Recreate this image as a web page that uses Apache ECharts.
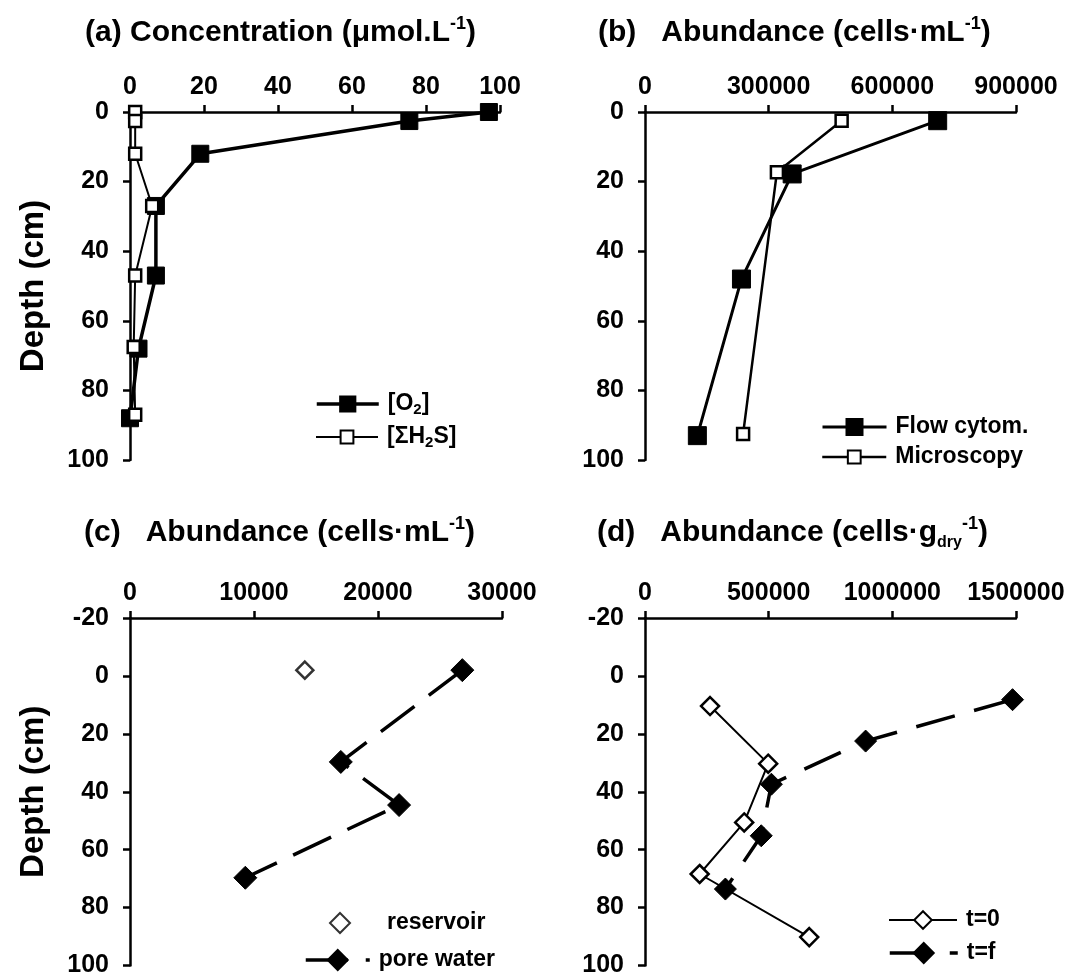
<!DOCTYPE html>
<html>
<head>
<meta charset="utf-8">
<script src="https://cdn.jsdelivr.net/npm/echarts@6/dist/echarts.min.js"></script>
<style>
  html, body { margin: 0; padding: 0; background: #fff; }
  #chart { width: 1073px; height: 978px; }
</style>
</head>
<body>
<div id="chart"></div>
<script>
// (a) concentrations, umol/L, against depth (cm)
var o2Conc = [97, 75.5, 19, 7, 7, 2.3, 0];
var o2Depth = [0, 2.6, 12, 27, 47, 68, 88];
var h2sConc = [1.4, 1.4, 1.4, 6, 1.4, 1, 1.4];
var h2sDepth = [0, 2.6, 12, 27, 47, 67.5, 87];

// (b) abundance, cells/mL
var flowAbund = [710000, 357000, 234000, 127000];
var flowDepth = [2.5, 17.8, 48, 93];
var microAbund = [477000, 320000, 238000];
var microDepth = [2.5, 17.3, 92.5];

// (c) abundance, cells/mL
var reservoirAbund = [14100];
var reservoirDepth = [-2];
var poreAbund = [26800, 17000, 21700, 9300];
var poreDepth = [-2, 29.7, 44.6, 69.7];

// (d) abundance, cells/g dry
var t0Abund = [263000, 498000, 401000, 221000, 664000];
var t0Depth = [10.4, 30.3, 50.6, 68.4, 90.2];
var tfAbund = [1486000, 892000, 511000, 470000, 325000];
var tfDepth = [8.2, 22.5, 37.4, 55.2, 73.6];

var FONT = "'Liberation Sans', Arial, sans-serif";

function pairs(xs, ys) {
    return xs.map(function (x, i) { return [x, ys[i]]; });
}

var myChart = echarts.init(document.getElementById('chart'));

var axisLine = { show: true, onZero: false, lineStyle: { color: '#000', width: 2.5 } };
var axisTick = { show: true, inside: false, length: 7, lineStyle: { color: '#000', width: 2.5 } };
var tickFont = {
    color: '#000', fontSize: 25, fontWeight: 'bold', fontFamily: FONT,
    formatter: function (v) { return String(v); }
};

function xAx(grid, max, interval) {
    return {
        type: 'value', gridIndex: grid, position: 'top',
        min: 0, max: max, interval: interval,
        axisLine: axisLine, axisTick: axisTick, splitLine: { show: false },
        axisLabel: Object.assign({ margin: 12 }, tickFont)
    };
}
function yAx(grid, min, withName) {
    return {
        type: 'value', gridIndex: grid, inverse: true,
        min: min, max: 100, interval: 20,
        axisLine: axisLine, axisTick: axisTick, splitLine: { show: false },
        axisLabel: Object.assign({ margin: 21 }, tickFont),
        name: withName ? 'Depth (cm)' : '',
        nameLocation: 'middle', nameRotate: 90, nameGap: 80,
        nameTextStyle: { color: '#000', fontSize: 33, fontWeight: 'bold', fontFamily: FONT }
    };
}

var titleRich = {
    sup: { fontSize: 18, fontWeight: 'bold', verticalAlign: 'top', lineHeight: 36, fontFamily: FONT, color: '#000' },
    sub: { fontSize: 16, fontWeight: 'bold', verticalAlign: 'bottom', lineHeight: 36, fontFamily: FONT, color: '#000' }
};
function ttl(text, left, top) {
    return {
        text: text, left: left, top: top, padding: 0,
        textStyle: { color: '#000', fontSize: 30, fontWeight: 'bold', lineHeight: 36, fontFamily: FONT, rich: titleRich }
    };
}

var legendRich = {
    sub: { fontSize: 15, fontWeight: 'bold', verticalAlign: 'bottom', lineHeight: 26, fontFamily: FONT, color: '#000' }
};
var legendNames = {
    '[O2]': '[O{sub|2}]',
    '[ΣH2S]': '[ΣH{sub|2}S]'
};
function lgd(name, left, yc, w, h, lw, textPad) {
    return {
        data: [name], left: left, top: yc - 13, padding: 0,
        itemWidth: w, itemHeight: h, selectedMode: false,
        lineStyle: { width: lw },
        formatter: function (n) { return legendNames[n] || n; },
        textStyle: {
            color: '#000', fontSize: 23, fontWeight: 'bold', lineHeight: 26, fontFamily: FONT,
            padding: [0, 0, 0, textPad || 4], rich: legendRich
        }
    };
}

var filled = { color: '#000', borderColor: '#000', borderWidth: 1 };
var open = { color: '#fff', borderColor: '#000', borderWidth: 2.5 };

var option = {
    backgroundColor: '#fff',
    animation: false,
    title: [
        ttl('(a) Concentration (μmol.L{sup|-1})', 85, 15),
        ttl('(b)   Abundance (cells·mL{sup|-1})', 598, 15),
        ttl('(c)   Abundance (cells·mL{sup|-1})', 84, 515),
        ttl('(d)   Abundance (cells·g{sub|dry}{sup|-1})', 597, 515)
    ],
    legend: [
        lgd('[O2]', 315, 404, 62, 19, 3.5),
        lgd('[ΣH2S]', 315, 437, 62, 16, 2),
        lgd('Flow cytom.', 821, 427, 64, 20, 3),
        lgd('Microscopy', 821, 457, 64, 16, 2.5),
        lgd('reservoir', 329, 923, 20, 20, 0, 32),
        lgd('pore water', 304, 960, 64, 25, 3.5),
        lgd('t=0', 888, 920, 68, 22, 2),
        lgd('t=f', 888, 953, 68, 25, 3.5)
    ],
    grid: [
        { left: 130, top: 112, width: 370, height: 348 },
        { left: 645, top: 112, width: 371, height: 348 },
        { left: 130, top: 618, width: 372, height: 348 },
        { left: 645, top: 618, width: 371, height: 348 }
    ],
    xAxis: [
        xAx(0, 100, 20),
        xAx(1, 900000, 300000),
        xAx(2, 30000, 10000),
        xAx(3, 1500000, 500000)
    ],
    yAxis: [
        yAx(0, 0, true),
        yAx(1, 0, false),
        yAx(2, -20, true),
        yAx(3, -20, false)
    ],
    series: [
        {
            name: '[O2]', type: 'line', xAxisIndex: 0, yAxisIndex: 0, clip: false,
            data: pairs(o2Conc, o2Depth),
            symbol: 'rect', symbolSize: 17, showAllSymbol: true,
            lineStyle: { color: '#000', width: 3.5 }, itemStyle: filled
        },
        {
            name: '[ΣH2S]', type: 'line', xAxisIndex: 0, yAxisIndex: 0, clip: false,
            data: pairs(h2sConc, h2sDepth),
            symbol: 'rect', symbolSize: 12, showAllSymbol: true,
            lineStyle: { color: '#000', width: 2 }, itemStyle: open
        },
        {
            name: 'Flow cytom.', type: 'line', xAxisIndex: 1, yAxisIndex: 1, clip: false,
            data: pairs(flowAbund, flowDepth),
            symbol: 'rect', symbolSize: 18,
            lineStyle: { color: '#000', width: 3 }, itemStyle: filled
        },
        {
            name: 'Microscopy', type: 'line', xAxisIndex: 1, yAxisIndex: 1, clip: false,
            data: pairs(microAbund, microDepth),
            symbol: 'rect', symbolSize: 12,
            lineStyle: { color: '#000', width: 2.5 }, itemStyle: open
        },
        {
            name: 'reservoir', type: 'scatter', xAxisIndex: 2, yAxisIndex: 2, clip: false,
            data: pairs(reservoirAbund, reservoirDepth),
            symbol: 'diamond', symbolSize: 17, itemStyle: open
        },
        {
            name: 'pore water', type: 'line', xAxisIndex: 2, yAxisIndex: 2, clip: false,
            data: pairs(poreAbund, poreDepth),
            symbol: 'diamond', symbolSize: 23,
            lineStyle: { color: '#000', width: 3.5, type: [42, 18] }, itemStyle: filled
        },
        {
            name: 't=0', type: 'line', xAxisIndex: 3, yAxisIndex: 3, clip: false,
            data: pairs(t0Abund, t0Depth),
            symbol: 'diamond', symbolSize: 18,
            lineStyle: { color: '#000', width: 2 }, itemStyle: open
        },
        {
            name: 't=f', type: 'line', xAxisIndex: 3, yAxisIndex: 3, clip: false,
            data: pairs(tfAbund, tfDepth),
            symbol: 'diamond', symbolSize: 22,
            lineStyle: { color: '#000', width: 3.5, type: [40, 20] }, itemStyle: filled
        }
    ]
};
myChart.setOption(option);
window.addEventListener('resize', function () {
    myChart.resize();
});
</script>
</body>
</html>
